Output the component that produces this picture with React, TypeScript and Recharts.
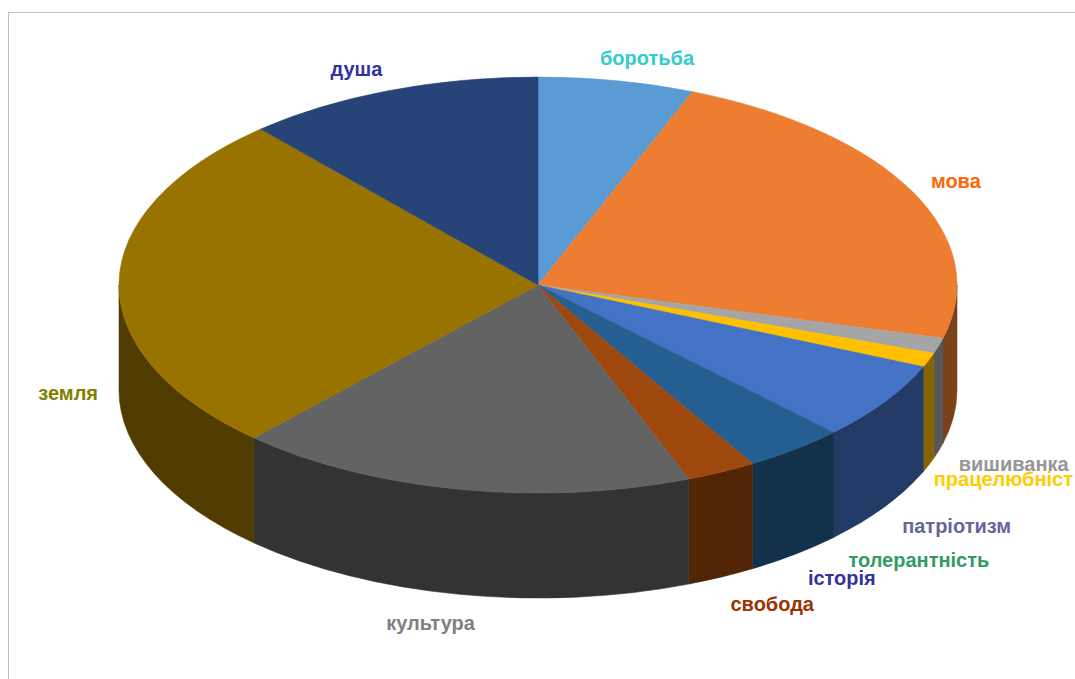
import React from "react";
import { PieChart, Pie, Cell } from "recharts";

const categories = [
  "боротьба",
  "мова",
  "вишиванка",
  "працелюбніст",
  "патріотизм",
  "толерантність",
  "історія",
  "свобода",
  "культура",
  "земля",
  "душа",
];
const values = [6.0, 23.1, 1.2, 1.1, 6.1, 0, 3.9, 2.7, 17.7, 26.6, 11.5];
const sliceColors = [
  "#5B9BD5",
  "#ED7D31",
  "#A5A5A5",
  "#FFC000",
  "#4472C4",
  "#70AD47",
  "#255E91",
  "#9E480E",
  "#636363",
  "#997300",
  "#264478",
];
const labelColors = [
  "#33CCCC",
  "#FF6600",
  "#969696",
  "#FFCC00",
  "#666699",
  "#339966",
  "#333399",
  "#993300",
  "#808080",
  "#808000",
  "#333399",
];

const data = categories.map((name, i) => ({ name, value: values[i] }));

const W = 1075;
const H = 679;
const RY = 0.4964; // vertical squash of the top face
const DEPTH = 105; // thickness of the pie
const FONT_SIZE = 20;
const FONT_FAMILY = "'Liberation Sans', Arial, sans-serif";

let measureCtx: CanvasRenderingContext2D | null = null;
function textWidth(t: string) {
  if (!measureCtx) {
    const c = document.createElement("canvas");
    measureCtx = c.getContext("2d");
  }
  if (!measureCtx) return t.length * FONT_SIZE * 0.58;
  measureCtx.font = `bold ${FONT_SIZE}px ${FONT_FAMILY}`;
  return measureCtx.measureText(t).width;
}

function darken(hex: string, f: number) {
  const n = parseInt(hex.slice(1), 16);
  const r = Math.round(((n >> 16) & 255) * f);
  const g = Math.round(((n >> 8) & 255) * f);
  const b = Math.round((n & 255) * f);
  return `rgb(${r},${g},${b})`;
}

function pt(cx: number, cy: number, rx: number, ry: number, a: number) {
  const r = (a * Math.PI) / 180;
  return [cx + rx * Math.cos(r), cy - ry * Math.sin(r)];
}

function Slice3D(props: any) {
  const { cx, cy, outerRadius, startAngle, endAngle, fill } = props;
  const rx = outerRadius;
  const ry = outerRadius * RY;
  const s = Math.max(startAngle, endAngle);
  const e = Math.min(startAngle, endAngle);
  if (s - e < 1e-6) return <g />;
  const [x1, y1] = pt(cx, cy, rx, ry, s);
  const [x2, y2] = pt(cx, cy, rx, ry, e);
  const large = s - e > 180 ? 1 : 0;
  const top = `M${cx},${cy} L${x1},${y1} A${rx},${ry} 0 ${large} 1 ${x2},${y2} Z`;
  let wall: any = null;
  const hi = Math.min(s, 0);
  const lo = Math.max(e, -180);
  if (hi > lo) {
    const [a1, b1] = pt(cx, cy, rx, ry, hi);
    const [a2, b2] = pt(cx, cy, rx, ry, lo);
    const d = `M${a1},${b1} A${rx},${ry} 0 0 1 ${a2},${b2} L${a2},${b2 + DEPTH} A${rx},${ry} 0 0 0 ${a1},${b1 + DEPTH} Z`;
    const wc = darken(fill, 0.52);
    wall = <path d={d} fill={wc} stroke={wc} strokeWidth={0.6} />;
  }
  return (
    <g>
      {wall}
      <path d={top} fill={fill} stroke={fill} strokeWidth={0.6} />
    </g>
  );
}

function renderLabel(props: any) {
  const { cx, cy, midAngle, outerRadius, index } = props;
  const text = categories[index];
  const w = textWidth(text);
  const rx = outerRadius + 21;
  const ry = outerRadius * RY + 23;
  const r = (midAngle * Math.PI) / 180;
  const c = Math.cos(r);
  const s = Math.sin(r);
  const ax = cx + rx * c;
  const g = Math.min(1, Math.abs(c) * 3);
  const center = ax + Math.sign(c) * g * (w / 2);
  let left = center - w / 2;
  if (left + w > W - 2) left = W - 2 - w;
  if (left < 2) left = 2;
  const y = cy - ry * s + (s < 0.1 ? DEPTH + 6 : 0);
  return (
    <text
      x={left}
      y={y}
      fill={labelColors[index]}
      textAnchor="start"
      dominantBaseline="central"
      fontFamily={FONT_FAMILY}
      fontWeight="bold"
      fontSize={FONT_SIZE}
    >
      {text}
    </text>
  );
}

export default function App() {
  return (
    <div
      style={{
        position: "absolute",
        left: 0,
        top: 0,
        width: W,
        height: H,
        overflow: "hidden",
        background: "#fff",
      }}
    >
      <div
        style={{
          position: "absolute",
          left: 8,
          top: 12,
          width: W - 8,
          height: H - 12,
          borderLeft: "1px solid #BFBFBF",
          borderTop: "1px solid #BFBFBF",
          boxSizing: "border-box",
        }}
      />
      <div style={{ position: "absolute", left: 0, top: 0 }}>
        <PieChart width={W} height={H} margin={{ top: 0, right: 0, bottom: 0, left: 0 }}>
          <Pie
            data={data}
            dataKey="value"
            nameKey="name"
            cx={538}
            cy={285}
            outerRadius={419}
            startAngle={90}
            endAngle={-270}
            isAnimationActive={false}
            stroke="none"
            shape={Slice3D}
            activeShape={Slice3D}
            inactiveShape={Slice3D}
            label={renderLabel}
            labelLine={false}
          >
            {data.map((d, i) => (
              <Cell key={d.name} fill={sliceColors[i]} />
            ))}
          </Pie>
        </PieChart>
      </div>
    </div>
  );
}
